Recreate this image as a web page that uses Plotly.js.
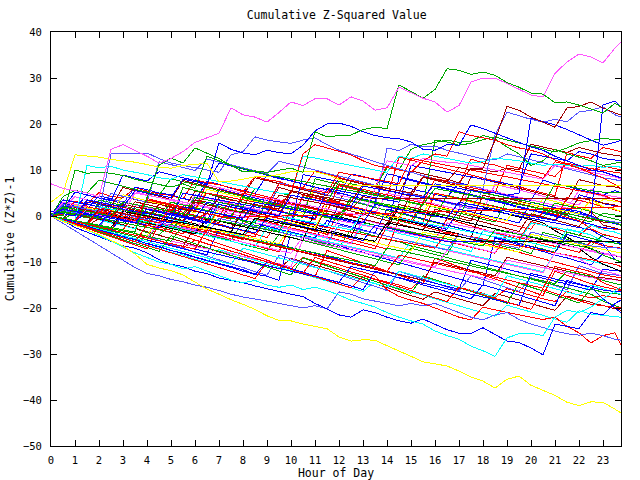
<!DOCTYPE html>
<html><head><meta charset="utf-8">
<script src="https://cdn.plot.ly/plotly-3.0.1.min.js"></script>
<style>body{margin:0;background:#fff} #chart path.js-line{shape-rendering:crispEdges}</style>
</head><body><div id="chart" style="width:640px;height:480px"></div>
<script>
const hours = [0,0.5,1,1.5,2,2.5,3,3.5, 4,4.5,5,5.5,6,6.5,7,7.5, 8,8.5,9,9.5,10,10.5,11,11.5, 12,12.5,13,13.5,14,14.5,15,15.5, 16,16.5,17,17.5,18,18.5,19,19.5, 20,20.5,21,21.5,22,22.5,23,23.5, 23.75];
const xTickLabels = ['0','1','2','3','4','5','6','7','8','9','10','11','12','13','14','15','16','17','18','19','20','21','22','23'];

const s01 = [7,6,5.5,5,4.2,14.5,15.5,14.3, 13,11.5,12.5,14,16,17,18,23.5, 22,21.5,20.4,22.5,24.8,24,25.5,25.5, 24.1,25.9,25,23,23.5,28,26.8,25.6, 24.8,22.6,24,29.1,30,30,28.8,27.5, 26.3,25.9,31,33.5,35.2,34.6,33.3,36.5, 37.8];
const s02 = [0.5,0,10,9.3,9.5,9.3,8.8,8, 7.4,6.8,6.3,7,6,13,12,11, 9.6,9.8,9.5,10,10.4,9.5,18.3,17.2, 17.5,17.6,18.8,19.3,19,28.5,27,25.6, 27.5,32,31.7,30.8,31.3,30.6,29,28, 26.7,26.5,24.6,24.8,24.1,23.3,22.4,24.5, 23.7];
const s03 = [0,-1.2,-2,-3,-4,-5.3,-6.5,-8.3, -10.5,-11.3,-11.9,-12.8,-14.3,-15.9,-17,-18.2, -19.2,-20.3,-21.7,-22.7,-22.8,-23.5,-24,-24.5, -26.3,-27.2,-26.9,-27,-28.2,-29.3,-30.5,-31.7, -32.1,-32.6,-33.7,-35,-35.9,-37.4,-35.5,-34.8, -36.8,-37.9,-39,-40.5,-41.2,-40.4,-40.5,-42, -42.8];
const s04 = [0,-1,-2,-3,-4.2,-5.5,-6.8,-8, -9,-10,-10.5,-11.5,-11,-12,-13,-13.9, -14.5,-14,-15,-15.5,-15,-16,-15.5,-16.2, -17.2,-18.3,-19,-19.8,-21,-22,-22.8,-23.5, -25,-26,-26.8,-28.3,-29.3,-30.5,-26.5,-25.6, -25.5,-26,-22,-20.5,-21,-19.8,-18,-16.2, -15.4];
const s05 = [0,-1,-2.5,-3.5,-4.5,-5.5,-6.5,-7, -8,-9.5,-10.5,-11,-12,-12.5,-13.5,-14, -14.5,-15.2,-15.8,-16.5,-17,-17.5,-19,-20.2, -21.5,-22,-20.4,-21,-22,-22.8,-23.3,-22.4, -23.5,-24.7,-25.5,-25.5,-24.3,-25.8,-27.2,-27.5, -28.7,-30.2,-23.5,-24,-24.5,-21,-21.5,-19, -18.3];
const s06 = [1,0.5,0,3.5,3,2.5,2,5.5, 5,4.5,4,8,7.5,6.7,15.9,14.5, 13.7,13.3,14.3,13.8,13.5,15.4,18.5,20, 20.2,19.5,18.3,17.5,17,16.8,16.1,14.5, 14.3,15.5,15.4,19.8,19,18,17,16, 15,14.3,13,12,11,10,9.6,8.8, 8.3];
const s07 = [0,-0.5,-1,-1.5,1.5,1,0.5,0, -0.5,2.5,2,1.5,1,0.5,4,3.5, 3,2.5,2,1.5,5.5,5,4.5,4, 3.5,3,7,6.5,6,5.5,5,8.5, 8,7.5,10.5,10,10.4,16.5,23.8,23, 21.5,20.4,19.3,23.5,23.8,24.8,23.5,22.4, 22];
const s08 = [0,2.5,2,1.5,1,13.5,13.7,13.5, 13.7,12.5,11.5,11,10.5,10,9.5,13.3, 14,17.2,16.5,16.1,15.8,16.5,17,15.5, 14.3,13.5,12.6,11.8,11,10.2,9.5,8.8, 8,7.5,7,6.5,6,17.6,22.6,21.8, 21,20.4,21,20.5,22.6,23,23.7,22, 21.5];
const s09 = [0,-0.5,-1,-1.5,-2,1,0.5,0, -0.5,-1,-1.5,2,1.5,1,0.5,0, -0.5,3,2.5,2,1.5,1,0.5,0, -0.5,-1,-1.5,2.5,2,1.5,1,0.5, 0,-0.5,3,2.5,2,1.5,1,0.5, 0,-0.5,-1,1.5,1,0,24.1,25, 23.7];
const s10 = [0,1.5,1,0.5,0,-0.5,-1,-1.5, 1.5,1,0.5,0,-0.5,3,2.5,2, 1.5,1,0.5,0,4.5,4,3.5,3, 2.5,2,6.5,6,5.5,5,4.5,4, 7,6.5,6,5.5,5.2,5,4.5,5, 21.3,20.5,19.8,18.8,17.6,16.5,15.4,16, 16.5];
const s11 = [0,-0.5,-1,2,1.5,1,0.5,0, 3.5,3,2.5,2,1.5,5,4.5,4, 3.5,3,2.5,7,6.5,6,5.5,5, 9.5,9,8.5,8,7.5,7,12.5,12, 13.5,13,18.3,17.5,17,16.5,15.5,14.8, 14.3,13.5,12.2,11.3,10.4,9.3,8.3,6.8, 6];
const s12 = [0,-0.5,-1,-1.5,1,0.5,0,-0.5, -1,-1.5,2,1.5,1,0.5,0,3.5, 3,2.5,2,2.5,5,13.5,15.5,14.8, 14,13.3,12,11,10.5,10,9.5,12, 11.5,11,10.5,10,9.5,9,8.5,8, 7.5,7,6.5,6,5.5,5,4.5,3.5, 3];
const s14 = [0,2,1.5,1,0.5,0,3,2.5, 2,1.5,1,0.5,4,3.5,3,2.5, 2,6,5.5,5,4.5,4,3.5,3, 7.5,7,6.5,6,10.5,10,14.5,15.5, 16,16.5,16,16.3,17.5,16.8,15,13.5, 11,12,14.5,13.5,12.8,12,11,11.5, 11.7];
const s15 = [0,-0.5,-1,11,10.5,10.8,10,9.5, 9,8.3,8,9,8.5,8,7.5,7, 6.5,6,5.5,5,5,13,12.6,12, 11.5,11,10.5,10,9.5,13,12.5,13.5, 13,12.5,12,11.5,11.8,12.6,12.3,12, 11.5,11,11.3,11,10.8,11,10.6,10.8, 10.6];
const s16 = [0,3,2.5,2,1.5,1,0.5,5, 4.5,4,3.5,3,2.5,2,1.5,1, 0.5,0,4,3.5,3,2.5,2,1.5, 1,0.5,0,6,12,11.5,11,12.5, 12,11.7,11.5,11,10.5,10,9.5,9, 8.5,8,11,10.5,10,9.5,9,8.5, 8];
const s17 = [0,-0.5,-1.2,-1.8,1,0.3,-0.4,-1, -1.6,-2.2,1.5,0.8,0.2,-0.5,-1.1,-1.8, -2.4,2.5,1.8,1.2,0.5,-0.1,-0.8,3.5, 2.9,2.2,1.5,0.9,0.2,-0.4,-1,3, 2.3,1.6,1,0.3,-0.3,-1,-1.6,-2.3, -2.9,1,0.4,-0.3,-1,-2.8,-4,-4.6, -5];
const s18 = [0,-0.7,-1.4,-2,-2.8,-3.4,0.5,-0.2, -0.9,-1.6,-2.3,-3,-3.6,1.2,0.5,-0.2, -0.9,-1.5,-2.2,-2.9,-3.5,-4.2,-4.8,-1, -1.7,-2.4,-3,-3.7,1.5,0.8,0.1,-0.6, -1.3,-2,-2.6,-3.3,-4,-4.6,-5.3,-6, -6.6,-7.3,-8,-4,-4.7,-5.4,-6.1,-9.5, -10];
const s19 = [0,-0.6,-1.3,-2,-2.6,-3.2,-3.9,-4.5, -5.2,-1.5,-2.2,-2.9,-3.5,-4.2,-4.9,-5.5, -6.2,-6.8,-7.5,-4,-4.6,-5.3,-6,-6.6, -7.3,-8,-8.6,-9.3,-10,-10.6,-7,-7.7, -8.4,-9,-9.7,-10.4,-11,-11.7,-12.4,-13, -13.7,-14.4,-15,-15.7,-16.4,-17,-18.5,-19.5, -20];
const s20 = [0,2,1.4,0.8,0.2,-0.4,3,2.4, 1.8,1.2,0.6,0,4.5,3.9,3.3,2.7, 2.1,1.5,0.9,0.3,-0.3,4,3.4,2.8, 2.2,1.6,1,0.4,5,4.4,3.8,3.2, 2.6,2,1.4,6.5,5.9,5.3,4.7,4.1, 3.5,2.9,2.3,1.7,5.5,4.9,4.3,3.5, 3];
const s21 = [0,-0.5,-1.1,-1.7,-2.3,0.5,-0.1,-0.7, -1.3,-1.9,-2.5,-3.1,-3.7,-4.3,-4.9,-5.5, -6.1,-6.7,-2.5,-3.1,-3.7,-4.3,-4.9,-5.5, -6.1,-6.7,-7.3,-7.9,-8.5,-9.1,-5.5,-6.1, -6.7,-7.3,-7.9,-8.5,-9.1,-9.7,-10.3,-10.9, -11.5,-12.1,-8,-8.6,-9.2,-9.8,-10.4,-11.5, -12];
const s22 = [0,-0.6,-1.2,-1.8,-2.4,-3,-3.6,-4.2, -4.8,-5.4,-6,-6.6,-2.5,-3.1,-3.7,-4.3, -4.9,-5.5,-6.1,-6.7,-7.3,-7.9,-8.5,-9.1, -9.7,-10.3,-11,-11.6,-12.2,-12.8,-13.4,-14, -10,-10.6,-11.2,-11.8,-12.4,-13,-9,-9.6, -10.2,-10.8,-11.4,-12,-12.6,-13.2,-13.4,-13.8, -14];
const s23 = [0,-0.5,-1,-1.6,-2.1,-2.7,-3.2,-3.8, -4.3,-0.5,-1,-1.6,-2.1,-2.7,-3.2,-3.8, -4.3,-4.9,-5.4,-6,-2,-2.5,-3.1,-3.6, -4.2,-4.7,-5.3,-5.8,-6.4,-6.9,-7.5,-3.5, -4,-4.6,-5.1,-5.7,-6.2,-6.8,-7.3,-7.9, -4,-4.5,-5.1,-5.6,-6.2,-6.7,-7.3,-7.8, -8];
const s24 = [0,-0.6,-1.2,1.5,0.9,0.3,-0.3,-0.9, -1.5,-2.1,-2.7,-3.3,-3.9,-0.5,-1.1,-1.7, -2.3,-2.9,-3.5,-4.1,-4.7,-5.3,1,0.4, -0.2,-0.8,-1.4,-2,-2.6,2,1.4,0.8, 0.2,-0.4,-1,-1.6,-2.2,-2.8,-3.4,-4, -4.6,-5.2,-5.8,-6.4,-7,-9,-10.5,-11.5, -12];
const s25 = [0,-1.6,-3.2,-4.8,-6.4,-8,-9.6,-11.2, -12.5,-13,-13.8,-14.3,-15,-15.5,-16.2,-17, -17.6,-18,-18.5,-19,-19.5,-20,-19.5,-20.2, -16.5,-17,-18,-18.5,-19,-19.5,-19,-19.5, -19,-20,-21,-22,-22.6,-21.5,-21,-22.5, -23.5,-24.3,-25,-25.6,-25.9,-25.5,-26,-26.8, -27];
const s26 = [0,-0.8,-1.6,-2.4,-3.2,-4,-4.8,-5.6, -2,-2.8,-3.6,-4.4,-5.2,-6,-6.8,-7.6, -8.4,-9.2,-10,-10.8,-11.6,-12.4,-9,-9.8, -10.6,-11.4,-12.2,-13,-16,-17.5,-18.3,-19, -20,-21,-22,-22.6,-19.8,-20.4,-21,-21.5, -22,-22.5,-22,-24,-25.4,-27.6,-26,-25.4, -28];
const s27 = [0,-0.7,-1.5,-2.2,-3,-3.7,-4.5,-5.2, -6,-6.7,-7.5,-8.2,-9,-9.7,-10.5,-11.2, -12,-12.7,-10,-10.7,-11.5,-12.2,-13,-13.7, -14.5,-15.2,-16,-12,-12.7,-13.5,-14.2,-15, -15.7,-16.5,-17.2,-18,-15,-15.7,-16.5,-17.2, -18,-18.7,-19.5,-14,-14.8,-15.5,-18,-20, -21];
const s28 = [0,0.8,0.2,-0.4,2.5,1.9,1.3,0.7, 0.1,-0.5,3,2.4,1.8,1.2,0.6,0, 4,3.4,2.8,2.2,1.6,1,0.4,-0.2, -0.8,4,3.4,2.8,2.2,1.6,1,0.4, -0.2,4.5,3.9,3.3,2.7,2.1,1.5,0.9, 0.3,-0.3,2.8,2.2,1.6,1,0,-0.6, -1];
const s29 = [0,-0.6,2,1.4,0.8,0.2,-0.4,-1, 3.5,2.9,2.3,1.7,1.1,0.5,-0.1,-0.7, 5,4.4,3.8,3.2,2.6,2,1.4,0.8, 7,6.4,5.8,5.2,4.6,4,3.4,2.8, 8,7.4,6.8,6.2,5.6,5,11,10.4, 9.8,9.2,8.6,11.5,10.9,10.3,9.9,9.5, 9.3];
const s30 = [0,-0.5,-1,1,0.5,0,-0.5,-1, 1.5,1,0.5,0,-0.5,0.5,0,-0.3, null,null,null,null,null,null,null,null, null,null,null,null,null,null,null,null, null,null,null,null,null,null,null,null, null,null,null,null,null,null,null,null, 2];
const s31 = [0,-0.6,-1.2,1,0.4,-0.2,-0.8,-1.4, -2,-2.6,0.5,-0.1,-0.7,-1.3,-1.9,-2.5, -3.1,-3.7,-0.5,-1.1,-1.7,-2.3,-2.9,-3.5, -4.1,-4.7,-5.3,-2,-2.6,-3.2,-3.8,-4.4, -5,-5.6,null,null,null,null,null,null, null,null,null,null,null,null,null,null, -5.6];
const s32 = [0,-0.5,-1,-1.5,-2,-2.5,1,0.5, 0,-0.5,-1,-1.5,-2,-2.5,-3,-3.5, -4,-0.5,-1,-1.5,-2,-2.5,-3,-3.5, -4,-4.5,-5,-5.5,-1.5,-2,-2.5,-3, -3.5,-4,-4.5,-5,-5.5,-5.6,null,null, null,null,null,null,null,null,null,null, -5.6];
const s33 = [3,5,13.3,13,12.8,12.3,12,11.7, 11.2,10.6,10.4,11,11.2,11.5,7.4,7.6, 8,8.5,8.5,9,9.6,9.6,9.6,9, 8,6.7,null,null,null,null,null,null, null,null,null,null,null,null,null,null, null,null,null,null,null,null,null,null, 6.7];
const s34 = [0,1.5,1,0.5,0,-0.5,2.5,2, 1.5,1,0.5,0,3.5,3,2.5,2, 1.5,1,0.5,4.5,4,3.5,3,2.5, 2,1.5,4.2,3.7,null,null,null,null, null,null,null,null,null,null,null,null, null,null,null,null,null,null,null,null, 3.7];
const s35 = [0,1.5,0.9,0.3,-0.3,-0.9,-1.5,2, 1.4,0.8,0.2,-0.4,-1,-1.6,3,2.4, 1.8,1.2,0.6,0,-0.6,-1.2,-1.8,-2.4, 2.5,1.9,1.3,0.7,0.1,-0.5,-1.1,-1.7, -2.3,-2.9,1.5,0.9,0.3,-0.3,-0.9,-1.5, 3,2.4,1.8,1.2,0.6,0,-1,-1.6, -2];
const s36 = [0,-0.5,-1.1,-1.6,-2.2,-2.7,-3.3,-3.8, -4.4,-4.9,-5.5,-2,-2.5,-3.1,-3.6,-4.2, -4.7,-5.3,-5.8,-6.4,-6.9,-7.5,-8,-8.6, -9.1,-9.7,-10.2,-10.8,-7,-7.5,-8.1,-8.6, -9.2,-9.7,-10.3,-10.8,-11.4,-11.9,-12.5,-13, -13.6,-14.1,-14.7,-12,-12.5,-13.1,-14,-14.6, -15];
const s37 = [0,-0.6,-1.2,-1.8,-2.4,-3,1,0.4, -0.2,-0.8,-1.4,-2,-2.6,-3.2,2.5,1.9, 1.3,0.7,0.1,-0.5,-1.1,4.5,3.9,3.3, 2.7,2.1,1.5,0.9,0.3,-0.3,-0.9,-1.5, 5,4.4,3.8,3.2,2.6,2,1.4,0.8, 0.2,-0.4,-1,4,3.4,2.8,2,1.4, 1];
const s38 = [0,-0.5,-1,1.5,1,0.5,0,-0.5, -1,-1.5,-2,-2.5,-3,0.5,0,-0.5, -1,-1.5,-2,-2.5,-3,-3.5,-4,-4.5, -1,-1.5,-2,-2.5,-3,-3.5,-4,-4.5, -5,-1.5,-2,-2.5,-3,-3.5,-4,-4.5, -5,-5.5,-6,-6.5,-7,-7.5,-8,-8.5, -9];
const s39 = [0,-0.7,-1.4,-2.1,-2.8,-3.5,-4.2,-4.9, -5.6,-6.3,-7,-7.7,-8.4,-9.1,-9.8,-10.5, -7,-7.7,-8.4,-9.1,-9.8,-10.5,-11.2,-11.9, -12.6,-13.3,-14,-14.7,-15.4,-12,-12.7,-13.4, -14.1,-14.8,-15.5,-16.2,-16.9,-17.6,-13,-13.7, -14.4,-15.1,-15.8,-16.5,-17.2,-15,-15.8,-16.5, -17];
const s40 = [0,1,0.4,-0.2,-0.8,2.5,1.9,1.3, 0.7,0.1,-0.5,-1.1,3,2.4,1.8,1.2, 0.6,0,-0.6,3.5,2.9,2.3,1.7,1.1, 0.5,-0.1,-0.7,-1.3,-1.9,2.5,1.9,1.3, 0.7,0.1,-0.5,-1.1,4.5,3.9,3.3,2.7, 2.1,1.5,0.9,0.3,4,3.4,2.8,2.4, 2];
const s41 = [0,-0.6,-1.2,-1.8,-2.4,-3,-3.6,-4.2, -4.8,-5.4,-6,-6.6,-7.2,-7.8,-8.4,-9, -9.6,-10.2,-10.8,-11.4,-12,-12.6,-13.2,-13.8, -14.4,-11,-11.6,-12.2,-12.8,-13.4,-14,-14.6, -15.2,-15.8,-16.4,-17,-17.6,-18.2,-18.8,-19.4, -12.5,-13.1,-13.7,-14.3,-14.9,-15.5,-16.1,-16.4, -16.5];
const s42 = [0,-0.5,-1,-1.5,-2,-2.5,-3,0.5, 0,-0.5,-1,-1.5,-2,-2.5,-3,-3.5, -4,-4.5,0,-0.5,-1,-1.5,-2,-2.5, -3,-3.5,-4,-4.5,-5,-5.5,-6,-6.5, -7,-3.5,-4,-4.5,-5,-5.5,-6,-6.5, -7,-7.5,-8,-8.5,-9,-9.5,-10,-10.5, -11];
const s43 = [0,-0.5,1.5,1,0.5,0,-0.5,-1, -1.5,2.5,2,1.5,1,0.5,0,-0.5, -1,-1.5,3,2.5,2,1.5,1,0.5, 0,4,3.5,3,2.5,2,1.5,1, 0.5,0,-0.5,5.5,5,4.5,4,3.5, 3,2.5,7,6.5,6,5.5,5.2,5, 5];
const s44 = [0,-0.6,-1.2,-1.8,-2.4,1,0.4,-0.2, -0.8,-1.4,-2,-2.6,-3.2,-3.8,-0.5,-1.1, -1.7,-2.3,-2.9,-3.5,-4.1,-4.7,-5.3,-5.9, -2,-2.6,-3.2,-3.8,-4.4,-5,-5.6,-6.2, -6.8,-7.4,-4,-4.6,-5.2,-5.8,-6.4,-7, -3.5,-4.1,-4.7,-5.3,-5.9,-6.5,-6.8,-7, -7];
const s45 = [0,-0.8,-1.6,-2.4,-3.2,-4,-4.8,-5.6, -6.4,-7.2,-8,-8.8,-9.6,-10.4,-11.2,-12, -12.8,-13.6,-10,-10.8,-11.6,-12.4,-13.2,-14, -14.8,-15.6,-13,-13.8,-14.6,-15.4,-16.2,-17, -17.8,-18.6,-15.5,-16.3,-17.1,-17.9,-18.7,-19.5, -20.3,-16,-16.8,-17.6,-18.4,-19.2,-19.5,-19.8, -20];
const s46 = [0,3.5,3,2.5,2,1.5,1,0.5, 0,-0.5,-1,-1.5,2.5,2,1.5,1, 0.5,0,-0.5,-1,-1.5,9,8.5,8, 7.5,7,6.5,6,5.5,5,4.5,4, 3.5,3,2.5,2,1.5,1,0.5,0, -0.5,-1,-1.5,-2,-2.5,-3,-4.5,-5.5, -6];
const s47 = [0,-0.6,-1.2,-1.8,-2.4,-3,-3.6,-4.2, -4.8,-1.5,-2.1,-2.7,-3.3,-3.9,-4.5,-5.1, -5.7,-6.3,-6.9,-7.5,-8.1,-4.5,-5.1,-5.7, -6.3,-6.9,-7.5,-8.1,-8.7,-9.3,-9.9,-10.5, -11.1,-7.5,-8.1,-8.7,-9.3,-9.9,-10.5,-11.1, -11.7,-12.3,-8,-8.6,-9.2,-11,-12,-12.5, -13];
const s48 = [0,-0.5,-1,-1.5,2,1.5,1,0.5, 0,-0.5,-1,-1.5,-2,-2.5,2.5,2, 1.5,1,0.5,0,-0.5,-1,-1.5,-2, -2.5,-3,1,0.5,0,-0.5,-1,-1.5, -2,-2.5,-3,-3.5,-4,-4.5,-5,-5.5, -1.5,-2,-2.5,-3,-3.5,-2,-3,-3.5, -4];
const s49 = [0,-0.7,2,1.3,0.6,-0.1,-0.8,-1.5, -2.2,1.5,0.8,0.1,-0.6,-1.3,-2,-2.7, 1,0.3,-0.4,-1.1,-1.8,-2.5,-3.2,2.5, 1.8,1.1,0.4,-0.3,-1,-1.7,-2.4,-3.1, 1.5,0.8,0.1,-0.6,-1.3,-2,-2.7,-3.4, 0.5,-0.2,-0.9,-1.6,-2.3,1,-2,-2.6, -3];
const s50 = [0,-0.5,-1,-1.5,-2,1,0.5,0, -0.5,-1,-1.5,-2,-2.5,-3,1.5,1, 0.5,0,-0.5,-1,-1.5,-2,-2.5,2.5, 2,1.5,1,0.5,0,-0.5,3,2.5, 2,1.5,1,0.5,0,-0.5,-1,3, 2.5,2,1.5,1,0.5,3.5,2,1.5, 1];
const s51 = [0,-0.6,-1.2,-1.8,-2.4,-3,-3.6,-4.2, -4.8,-5.4,-6,-6.6,-7.2,-3,-3.6,-4.2, -4.8,-5.4,-6,-6.6,-7.2,-7.8,-8.4,-9, -9.6,-10.2,-10.8,-11.4,-12,-8.5,-9.1,-9.7, -10.3,-10.9,-11.5,-12.1,-12.7,-13.3,-13.9,-14.5, -15.1,-15.7,-11,-11.6,-12.2,-12.8,-14.5,-15.5, -16];
const s52 = [0,-0.5,-1,3,2.5,2,1.5,1, 0.5,0,-0.5,5,4.5,4,3.5,3, 2.5,2,1.5,1,0.5,0,-0.5,6, 5.5,5,4.5,4,3.5,3,11,10.5, 10,9.5,9,8.5,8,7.5,7,6.5, 13.5,13,12.5,12,14,13.5,12.5,12.2, 12];
const s53 = [0,1,0.5,0,-0.5,-1,-1.5,-2, -2.5,-3,-3.5,0.5,0,-0.5,-1,-1.5, -2,-2.5,-3,-3.5,1.5,1,0.5,0, -0.5,-1,-1.5,-2,-2.5,-3,-3.5,-4, -4.5,-5,-5.5,-6,-6.5,-3,-3.5,-4, -4.5,-5,-5.5,-6,-6.5,-7,-8.5,-9.5, -10];
const s54 = [0,-0.5,-1,-1.5,-2,-2.5,-3,-3.5, 4,11,12.6,11.5,14.8,13.7,12.5,11, 10.3,9.6,9,8.5,8,7.5,7,6.5, 6,5.5,5,4.5,4,3.5,3,2.5, 6,5.5,5,4.5,4,3.5,3,2.5, 2,1.5,1,0.5,0,-0.5,-1,-1.5, -2];

const t01 = [0,0.4,3.2,2.6,5.1,4.3,3.9,6.2, 5.4,4.8,4.5,3.7,7.9,7.2,6.8,6.1, 5.2,8.6,7.9,7.5,6.6,6.1,9.8,9.2, 8.4,7.7,7.3,6.4,10.9,10.1,9.6,8.7, 8.1,7.6,6.8,12.4,11.5,11.1,10.2,9.6, 9.0,8.2,11.8,11.1,10.5,9.8,10.9,10.3, 10];
const t02 = [0,2.2,1.7,4.6,3.9,3.5,2.6,6.3, 5.7,5.0,4.6,3.8,3.3,7.5,6.9,6.0, 5.6,4.8,8.9,8.1,7.7,7.0,6.2,5.7, 4.9,9.1,8.6,7.8,7.2,6.7,5.9,5.3, 4.6,4.1,7.2,6.6,5.8,5.4,4.5,3.9, 3.4,7.8,7.0,6.5,5.7,5.2,4.6,5.5, 5];
const t03 = [0,-0.6,-1.1,1.8,1.1,0.7,4.3,3.6, 3.0,2.6,1.8,1.3,5.4,4.9,4.1,3.5, 3.0,2.3,1.8,6.2,5.5,5.0,4.3,3.7, 3.1,7.6,6.9,6.5,5.6,5.1,9.8,9.2, 8.5,8.0,7.2,10.4,10.0,9.6,10.4,10.1, 15.6,15.0,14.3,13.8,14.9,14.3,13.6,13.2, 13];
const t04 = [0,-0.9,-1.5,-2.6,-3.2,-4.1,-3.0,-3.9, -4.7,-5.3,-6.4,-7.0,-5.2,-6.1,-6.8,-7.7, -8.3,-9.2,-9.9,-10.6,-11.5,-9.0,-9.8,-10.5, -11.3,-12.2,-12.8,-13.7,-14.3,-15.0,-15.9,-13.2, -14.0,-14.6,-15.5,-16.2,-16.8,-17.7,-15.8,-16.5, -17.3,-18.0,-18.6,-16.4,-17.2,-17.8,-17.3,-17.7, -18];
const t05 = [0,-0.8,0.9,0.2,-0.6,-1.3,-2.1,-2.7, -3.6,-4.1,-1.8,-2.6,-3.2,-4.0,-4.7,-5.3, -1.2,-2.0,-2.5,-3.4,-4.1,-4.6,-5.5,-6.1, -6.8,-2.9,-3.6,-4.4,-5.1,-5.6,-6.5,-7.1, -7.8,-8.4,-3.9,-4.6,-5.4,-6.0,-6.8,-7.3, -8.2,-3.6,-4.2,-5.1,-5.7,-6.5,-4.1,-4.6, -5];
const t06 = [0,-0.7,-1.6,-2.2,-3.1,-3.7,-4.6,-5.1, -6.0,-6.6,-7.5,-8.1,-8.9,-9.6,-10.3,-11.1, -11.7,-12.6,-13.1,-14.0,-3.5,-4.3,-4.9,-5.8, -6.4,-7.3,-7.9,-8.7,-9.4,-10.1,-10.9,-11.5, -12.3,-13.0,-13.7,-14.5,-15.1,-4.8,-5.5,-6.2, -7.0,-7.7,-8.5,-9.1,-9.9,-10.6,-8.2,-8.6, -9];
const t07 = [0,1.6,4.2,3.5,3.0,2.2,1.7,5.3, 4.6,4.0,3.4,2.6,2.1,6.8,6.2,5.5, 4.9,4.2,3.7,2.9,2.4,1.6,5.9,5.3, 4.6,4.0,3.3,2.7,1.9,1.4,0.6,4.4, 3.8,3.1,2.5,1.8,1.2,6.9,6.3,5.6, 5.0,4.3,3.7,3.0,2.4,5.8,4.6,4.2, 4];
const t08 = [0,-0.8,-1.7,-2.3,-3.2,-4.0,-4.7,-5.5, -6.3,-7.0,-7.9,-8.5,-9.4,-10.1,-7.3,-8.1, -8.8,-9.6,-10.4,-11.1,-11.9,-12.6,-13.4,-14.1, -14.9,-15.6,-16.4,-14.2,-15.0,-15.7,-16.5,-17.2, -18.0,-18.8,-19.5,-20.3,-21.0,-21.8,-19.4,-20.1, -20.9,-21.6,-22.4,-23.1,-20.6,-21.3,-21.6,-21.8, -22];
const t09 = [0,-0.7,-1.4,-2.2,-0.5,-1.2,-2.0,-2.7, -3.4,-4.2,-4.9,-5.6,-6.4,-7.1,-7.8,-8.6, -9.3,-10.0,-10.8,-11.5,-9.2,-10.0,-10.7,-11.4, -12.2,-12.9,-13.8,-14.7,-15.6,-16.4,-17.3,-18.1, -16.5,-17.3,-18.0,-18.8,-19.5,-16.8,-17.5,-18.3, -19.0,-19.8,-20.5,-17.4,-18.1,-18.9,-19.6,-20.3, -20.5];
const t10 = [0,-0.6,-1.3,2.6,1.9,1.3,0.6,-0.1, 3.8,3.2,2.5,1.9,1.2,7.4,6.8,6.1, 5.5,4.8,4.2,3.5,2.9,2.2,1.6,0.9, 6.6,6.0,5.3,4.7,4.0,12.8,12.2,11.5, 10.9,10.2,9.6,8.9,8.3,7.6,7.0,6.3, 5.7,5.0,4.4,13.8,13.1,12.5,14.9,14.3, 14];
const t11 = [0,1.8,1.2,0.5,-0.1,2.9,2.2,1.6, 0.9,0.3,-0.4,-1.0,3.4,2.7,2.1,1.4, 0.8,0.1,-0.5,-1.2,-1.8,4.2,3.5,2.9, 2.2,1.6,0.9,0.3,-0.4,-1.0,-1.7,2.6, 1.9,1.3,0.6,0.0,-0.7,-1.3,3.3,2.6, 2.0,1.3,0.7,0.0,-0.6,-1.3,0.6,0.3, 0];
const t12 = [0,2.8,2.1,1.5,4.4,3.7,3.1,2.4, 1.8,1.1,0.5,-0.2,-0.8,-1.5,5.9,5.2, 4.6,3.9,3.3,2.6,2.0,1.3,0.7,0.0, -0.6,-1.3,-1.9,-2.6,-3.2,8.4,7.7,7.1, 6.4,5.8,5.1,4.5,3.8,3.2,2.5,1.9, 1.2,0.6,-0.1,-0.7,4.6,3.9,2.7,2.3, 2];
const t13 = [0,-1.0,-1.8,-2.7,-3.6,-4.4,-5.3,-6.1, -4.4,-5.3,-6.1,-7.0,-7.8,-8.7,-9.5,-10.4, -11.2,-12.1,-12.9,-8.5,-9.4,-10.2,-11.1,-11.9, -12.8,-13.6,-14.5,-15.3,-16.2,-12.0,-12.9,-13.7, -14.6,-15.4,-16.3,-13.0,-13.9,-14.7,-15.6,-16.4, -13.4,-14.3,-15.1,-16.0,-10.8,-11.7,-12.5,-12.8, -13];
const t14 = [0,-0.7,-1.3,-2.0,-2.6,2.1,1.4,0.8, 0.1,-0.5,-1.2,-1.8,-2.5,-3.1,-3.8,-4.4, -5.1,-0.6,-1.3,-1.9,-2.6,-3.2,-3.9,-4.5, -5.2,-5.8,-6.5,-7.1,-2.2,-2.9,-3.5,-4.2, -4.8,-5.5,-6.1,-6.8,-7.4,-8.1,-4.0,-4.7, -5.3,-6.0,-6.6,-7.3,-7.9,-5.6,-6.4,-6.8, -7];
const t15 = [0,-0.6,2.4,1.8,1.1,0.5,4.6,4.0, 3.3,2.7,2.0,1.4,0.7,5.8,5.2,4.5, 3.9,3.2,2.6,1.9,1.3,0.6,6.3,5.7, 5.0,4.4,3.7,3.1,2.4,1.8,1.1,0.5, 4.9,4.3,3.6,3.0,2.3,1.7,1.0,0.4, -0.3,3.8,3.2,2.5,1.9,1.2,3.6,3.2, 3];
const t16 = [0,1.2,0.5,-0.1,-0.8,-1.4,-2.1,1.6, 0.9,0.3,-0.4,-1.0,-1.7,-2.3,-3.0,-3.6, 1.5,0.8,0.2,-0.5,-1.1,-1.8,-2.4,-3.1, -3.7,-4.4,1.3,0.6,0.0,-0.7,-1.3,-2.0, -2.6,-3.3,-3.9,-4.6,1.8,1.1,0.5,-0.2, -0.8,-1.5,-3.2,-4.6,-6.0,-7.2,-8.0,-8.6, -9];
const t17 = [0,-0.5,-1.2,-1.8,3.5,2.9,2.2,1.6, 0.9,0.3,-0.4,6.2,5.6,4.9,4.3,3.6, 3.0,2.3,1.7,1.0,0.4,-0.3,8.1,7.5, 6.8,6.2,5.5,4.9,4.2,3.6,2.9,2.3, 16.5,16.1,15.4,15.8,16.6,17.2,16.5,15.9, 15.2,14.6,13.9,14.8,15.9,16.4,16.9,16.6, 16.5];
const t18 = [0,-0.8,-1.5,-2.3,1.4,0.6,-0.1,-0.9, -1.6,-2.4,-3.1,-3.9,-0.2,-1.0,-1.7,-2.5, -3.2,-4.0,-4.7,-1.0,-1.8,-2.5,-3.3,-4.0, 0.9,0.1,-0.6,-1.4,-2.1,-2.9,-3.6,-4.4, -5.1,-0.6,-1.4,-2.1,-2.9,-3.6,-4.4,-5.1, -1.2,-2.0,-2.7,-3.5,-4.2,-2.1,-2.6,-2.8, -3];
const t19 = [0,-0.6,-1.3,-1.9,-2.6,-3.2,-3.9,-4.5, -5.2,-5.8,-6.5,-7.1,-7.8,-8.4,-2.9,-3.6, -4.2,-4.9,-5.5,-6.2,-6.8,-7.5,-8.1,-8.8, -9.4,-10.1,-10.7,-11.4,-12.0,-12.7,-13.3,-14.0, -14.6,-15.3,-15.9,-9.6,-10.3,-10.9,-11.6,-12.2, -12.9,-13.5,-14.2,-14.8,-15.5,-16.1,-11.6,-11.9, -12];
const t20 = [0,-0.5,-1.1,-1.6,-2.2,-2.7,-3.3,-3.8, -4.4,-4.9,-5.5,-6.0,-6.6,-7.1,-7.7,-8.2, -8.8,-9.3,-9.9,-10.4,-11.0,-5.2,-5.8,-6.3, -6.9,-7.4,-8.0,-8.5,-9.1,-9.6,-10.2,-10.7, -11.3,-11.8,-12.4,-12.9,-13.5,-14.0,-9.6,-10.1, -10.7,-11.2,-11.8,-12.3,-12.9,-13.4,-13.7,-13.9, -14];
const t21 = [0,-0.6,1.8,1.2,0.5,-0.1,-0.8,3.1, 2.5,1.8,1.2,0.5,-0.1,-0.8,-1.4,2.7, 2.1,1.4,0.8,0.1,5.3,4.7,4.0,3.4, 2.7,2.1,1.4,0.8,0.1,-0.5,4.9,4.3, 3.6,3.0,2.3,8.6,8.0,7.3,6.7,6.0, 5.4,4.7,4.1,3.4,7.9,7.3,6.6,6.3, 6];
const t22 = [0,1.1,0.5,-0.2,-0.8,-1.5,-2.1,-2.8, 0.6,0.0,-0.7,-1.3,-2.0,-2.6,-3.3,-3.9, -4.6,-0.9,-1.6,-2.2,-2.9,-3.5,-4.2,-4.8, -5.5,-6.1,-1.8,-2.5,-3.1,-3.8,-4.4,-5.1, -5.7,-6.4,-7.0,-7.7,-3.2,-3.9,-4.5,-5.2, -5.8,-6.5,-7.1,-2.8,-3.5,-4.1,-5.6,-5.8, -6];
const t23 = [0,-0.7,-1.4,-2.1,-2.8,-3.5,1.3,0.6, -0.1,-0.8,-1.5,-2.2,-2.9,-3.6,-4.3,-5.0, -5.7,-6.4,-7.1,-7.8,-1.6,-2.3,-3.0,-3.7, -4.4,-5.1,-5.8,-6.5,-7.2,-0.9,-1.6,-2.3, -3.0,-3.7,-4.4,-5.1,-5.8,-6.5,-7.2,-7.9, -8.6,-9.3,-10.0,-10.7,-11.4,-12.1,-12.8,-13.2, -13.5];
const t24 = [0,1.3,0.7,0.0,-0.6,3.7,3.1,2.4, 1.8,1.1,0.5,-0.2,4.6,4.0,3.3,2.7, 2.0,1.4,0.7,7.2,6.6,5.9,5.3,4.6, 4.0,3.3,2.7,2.0,14.8,14.2,15.6,15.0, 15.2,14.3,13.7,13.0,12.4,12.2,13.5,12.9, 12.2,11.6,10.9,10.3,9.6,9.0,8.3,7.9, 7.6];
const t25 = [0,-0.9,-1.7,-2.6,-3.4,-4.3,-5.1,-6.0, -6.8,-7.7,-4.3,-5.2,-6.0,-6.9,-7.7,-8.6, -9.4,-10.3,-11.1,-12.0,-12.8,-9.1,-10.0,-10.8, -11.7,-12.5,-13.4,-14.2,-15.1,-15.9,-16.8,-13.0, -13.9,-14.7,-15.6,-16.4,-17.3,-18.1,-19.0,-14.6, -15.5,-16.3,-17.2,-18.0,-18.9,-15.8,-16.6,-16.9, -17];

const u01 = [0,-0.6,2.1,1.5,0.8,4.9,4.3,3.6, 3.0,11.8,11.2,10.5,9.9,12.4,11.8,11.1, 10.5,9.8,9.2,11.9,11.3,10.6,10.0,9.3, 8.7,8.0,7.4,6.7,6.1,5.4,4.8,4.1, 3.5,2.8,2.2,1.5,5.6,5.0,4.3,3.7, 3.0,2.4,1.7,1.1,0.4,-0.2,-0.9,-1.3, -1.5];
const u02 = [0,4.2,5.6,5.0,7.8,7.1,6.5,5.8, 5.2,4.5,8.1,7.5,6.8,6.2,5.5,4.9, 4.2,3.6,2.9,2.3,1.6,1.0,0.3,-0.3, -1.0,3.2,2.5,1.9,1.2,0.6,-0.1,-0.7, -1.4,-2.0,-2.7,-3.3,-4.0,-4.6,-5.3,-5.9, -6.6,-7.2,-7.9,-3.5,-4.2,-4.8,-5.5,-5.9, -6.2];
const u03 = [0,-0.9,-1.8,-2.7,-3.6,-4.5,-5.4,-6.3, -7.2,-1.5,-2.4,-3.3,-4.2,-5.1,-6.0,-6.9, -7.8,-8.7,-9.6,-10.5,-11.4,-12.3,-13.2,-7.5, -8.4,-9.3,-10.2,-11.1,-12.0,-12.9,-13.8,-14.7, -9.2,-10.1,-11.0,-11.9,-12.8,-13.7,-14.6,-15.5, -16.4,-17.3,-12.0,-12.9,-13.8,-14.7,-15.4,-15.9, -16.2];
const u04 = [0,1.4,5.2,4.6,4.0,3.3,8.9,8.3, 7.6,9.6,9.0,8.3,7.7,7.0,11.5,10.9, 10.2,9.6,8.9,8.3,7.6,7.0,6.3,5.7, 5.0,4.4,3.7,3.1,9.2,8.6,7.9,7.3, 6.6,6.0,5.3,4.7,4.0,3.4,2.7,2.1, 1.4,0.8,0.1,-0.5,-1.2,-1.8,-2.5,-2.8, -3];
const u05 = [0,-0.5,-1.1,3.4,2.8,2.1,6.2,5.6, 4.9,4.3,3.6,7.7,7.1,6.4,5.8,5.1, 4.5,8.3,7.7,7.0,6.4,5.7,5.1,4.4, 8.2,7.6,6.9,6.3,5.6,5.0,4.3,8.4, 7.8,7.1,6.5,5.8,5.2,4.5,3.9,3.2, 2.6,1.9,1.3,0.6,0.0,-0.6,-1.3,-1.6, -1.8];
const u06 = [0,2.6,2.0,1.3,0.7,0.0,-0.6,-1.3, -1.9,-2.6,3.7,3.1,2.4,1.8,1.1,0.5, -0.2,-0.8,-1.5,-2.1,-2.8,-3.4,-4.1,-4.7, -5.4,-6.0,-0.8,-1.5,-2.1,-2.8,-3.4,-4.1, -4.7,-5.4,-6.0,-6.7,-7.3,-8.0,-3.1,-3.8, -4.4,-5.1,-5.7,-6.4,-7.0,-7.7,-8.3,-8.6, -8.8];

const RED='#ff0000', GRN='#00a800', BLU='#0000ff', MAG='#ff55ff', CYA='#00ffff', DRD='#a00000', YEL='#ffff00', BLK='#000000', SLB='#5555ff';

const seriesList = [
  t01,t02,t03,t04,t05,t06,t07,t08,t09,t10,t11,t12,t13,t14,t15,t16,t17,t18,t19,t20,t21,t22,t23,t24,t25,
  u01,u02,u03,u04,u05,u06,
  s17,s18,s19,s20,s21,s22,s23,s24,s28,s29,s35,s36,s37,s38,s39,s40,s41,s42,s43,s44,s45,s46,s47,s48,s49,s50,s51,s52,s53,
  s30,s31,s32,s34,s27,s26,s25,s14,s15,s16,s12,s11,s10,s09,s08,s07,s54,s06,s33,s05,s04,s03,s02,s01];
const seriesColors = [
  RED,BLU,DRD,RED,GRN,BLU,MAG,CYA,DRD,RED,GRN,BLU,SLB,RED,YEL,BLK,GRN,RED,BLU,MAG,DRD,CYA,RED,SLB,GRN,
  SLB,GRN,RED,BLU,DRD,MAG,
  RED,BLU,GRN,MAG,CYA,DRD,YEL,BLK,GRN,RED,BLU,GRN,RED,MAG,CYA,DRD,BLU,RED,GRN,SLB,RED,BLU,MAG,CYA,DRD,YEL,RED,BLU,GRN,
  RED,BLU,BLK,DRD,BLU,RED,SLB,GRN,CYA,MAG,RED,RED,BLU,BLU,SLB,DRD,GRN,BLU,YEL,BLU,CYA,YEL,GRN,MAG];

const traces = seriesList.map((ys, i) => ({
  type: 'scatter', mode: 'lines', x: hours, y: ys, connectgaps: true,
  line: {color: seriesColors[i], width: 1}, hoverinfo: 'skip'
}));

const FONT = 'DejaVu Sans Mono, monospace';
const layout = {
  width: 640, height: 480,
  margin: {l: 51, r: 19, t: 32, b: 34},
  paper_bgcolor: '#ffffff', plot_bgcolor: '#ffffff',
  showlegend: false,
  font: {family: FONT, size: 10.5, color: '#000'},
  title: {text: 'Cumulative Z-Squared Value', x: 0.526, xanchor: 'center', y: 0.969, yanchor: 'middle', font: {family: FONT, size: 11.5, color: '#000'}},
  xaxis: {
    range: [0, 23.75], tickmode: 'array', tickvals: xTickLabels.map(Number), ticktext: xTickLabels,
    ticks: 'inside', ticklen: 6, tickcolor: '#000', tickwidth: 1,
    showline: true, linecolor: '#000', linewidth: 1, mirror: 'ticks',
    showgrid: false, zeroline: false, ticklabelstandoff: 4,
    tickfont: {family: FONT, size: 10.5, color: '#000'},
    title: {text: 'Hour of Day', standoff: 4, font: {family: FONT, size: 11.5, color: '#000'}}
  },
  yaxis: {
    range: [-50, 40], tick0: 0, dtick: 10,
    ticks: 'inside', ticklen: 6, tickcolor: '#000', tickwidth: 1,
    showline: true, linecolor: '#000', linewidth: 1, mirror: 'ticks',
    showgrid: false, zeroline: false, ticklabelstandoff: 6,
    tickfont: {family: FONT, size: 10.5, color: '#000'},
    title: {text: 'Cumulative (Z*Z)-1', standoff: 5, font: {family: FONT, size: 11.5, color: '#000'}}
  }
};

Plotly.newPlot('chart', traces, layout, {staticPlot: true, displayModeBar: false});
</script>
</body></html>
